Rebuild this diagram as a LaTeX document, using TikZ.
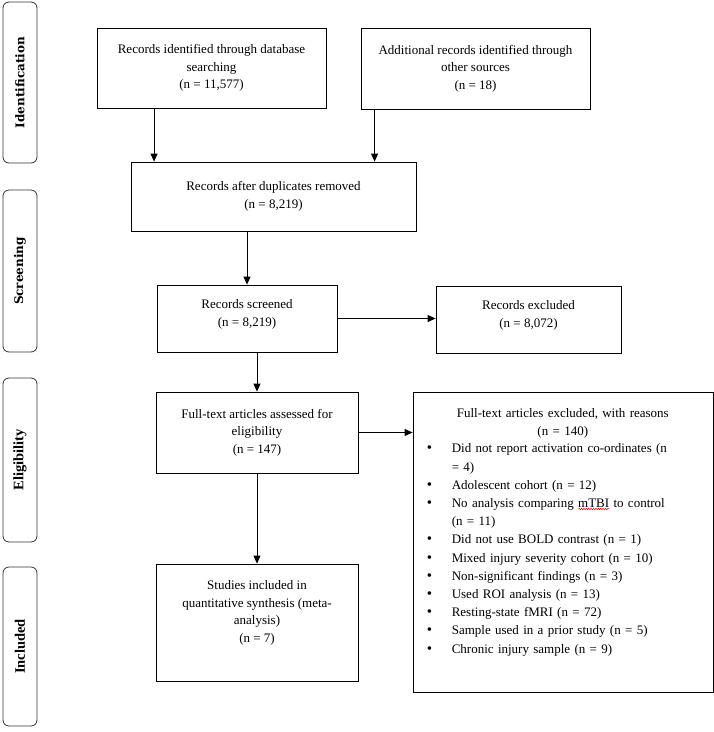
\documentclass[tikz,border=0pt]{standalone}
\usepackage{fontspec}
\setmainfont{Liberation Serif}
\newfontfamily\tabfont{DejaVu Serif}
\usetikzlibrary{arrows.meta,calc,decorations.pathmorphing}
\newsavebox\wavebox
\newcommand\redwave[1]{\sbox\wavebox{#1}\rlap{\raisebox{-2.5pt}{\tikz\draw[red, line width=0.5pt, decorate, decoration={snake, amplitude=0.7pt, segment length=2.4pt}] (0pt,0pt) -- (\wd\wavebox,0pt);}}\usebox\wavebox}
\newcommand\bigbullet{\fontsize{15}{18}\selectfont\textbullet}

\begin{document}
\begin{tikzpicture}[
	x=1pt, y=-1pt,
	box/.style={shape=rectangle, draw=black, line width=0.8pt, align=center, font=\fontsize{13}{17.5}\selectfont, inner sep=2pt},
	tab/.style={shape=rectangle, draw=black!80, line width=0.8pt, rounded corners=6pt, rotate=90, minimum height=34pt, font=\bfseries},
	arr/.style={line width=0.8pt, -{Triangle[length=8pt,width=7pt]}},
]
\useasboundingbox (0,0) rectangle (714,732);

% phases
\node[tab, minimum width=161pt, font=\tabfont\bfseries\fontsize{12}{13}\selectfont] (tIdent) at (20,82.5) {Identification};
\node[tab, minimum width=162pt, font=\tabfont\bfseries\fontsize{12}{13}\selectfont] (tScreen) at (20,271) {Screening};
\node[tab, minimum width=164pt, font=\bfseries\fontsize{14.5}{16}\selectfont] (tElig) at (20,460) {Eligibility};
\node[tab, minimum width=159pt, font=\bfseries\fontsize{14.5}{16}\selectfont] (tIncl) at (20,646.5) {Included};

% boxes
\node[box, minimum width=229pt, minimum height=80pt] (dbase) at (211.5,68) {Records identified through database\\searching\\(n = 11,577)};
\node[box, minimum width=229pt, minimum height=81pt] (other) at (475.5,68.5) {Additional records identified through\\other sources\\(n = 18)};
\node[box, minimum width=285pt, minimum height=69pt] (dups) at (273.5,196.5) {Records after duplicates removed\\(n = 8,219)};
\node[box, minimum width=180pt, minimum height=67pt, text depth=11pt] (screened) at (247,318.5) {Records screened\\(n = 8,219)};
\node[box, minimum width=185pt, minimum height=67pt, text depth=11pt] (excl) at (528.5,319.5) {Records excluded\\(n = 8,072)};
\node[box, minimum width=202pt, minimum height=81pt] (fulltext) at (257,432.5) {Full-text articles assessed for\\eligibility\\(n = 147)};
\node[box, minimum width=202pt, minimum height=117pt, text depth=22pt] (studies) at (257,622.5) {Studies included in\\quantitative synthesis (meta-\\analysis)\\(n = 7)};
\node[box, minimum width=300pt, minimum height=300pt] (reasons) at (563,542) {};
\node[anchor=north west, inner sep=0pt, text width=272pt, align=center, font=\fontsize{13}{17.5}\selectfont] (reasonstxt) at ([xshift=14pt,yshift=-17pt]reasons.north west) {Full-text articles excluded, with reasons\\(n = 140)\par\vspace{1pt}
\fontsize{13}{18.2}\selectfont
\begin{tabular}{@{}p{25pt}@{}p{247pt}@{}}
\bigbullet & Did not report activation co-ordinates (n\newline = 4)\\
\bigbullet & Adolescent cohort (n = 12)\\
\bigbullet & No analysis comparing \redwave{mTBI} to control\newline (n = 11)\\
\bigbullet & Did not use BOLD contrast (n = 1)\\
\bigbullet & Mixed injury severity cohort (n = 10)\\
\bigbullet & Non-significant findings (n = 3)\\
\bigbullet & Used ROI analysis (n = 13)\\
\bigbullet & Resting-state fMRI (n = 72)\\
\bigbullet & Sample used in a prior study (n = 5)\\
\bigbullet & Chronic injury sample (n = 9)\\
\end{tabular}};

% arrows
\coordinate (dbfoot) at ($(dbase.south west)!0.25!(dbase.south east)$);
\coordinate (otherfoot) at ([xshift=14pt]other.south west);
\draw[arr] (dbfoot) -- (dbfoot |- dups.north);
\draw[arr] (otherfoot) -- (otherfoot |- dups.north);
\draw[arr] (dups.south -| screened.north) -- (screened.north);
\draw[arr] (screened.east) -- (screened.east -| excl.west);
\draw[arr] (screened.south -| fulltext.north) -- (fulltext.north);
\draw[arr] (fulltext.east) -- (fulltext.east -| reasons.west);
\draw[arr] (fulltext.south) -- (studies.north);
\end{tikzpicture}
\end{document}
